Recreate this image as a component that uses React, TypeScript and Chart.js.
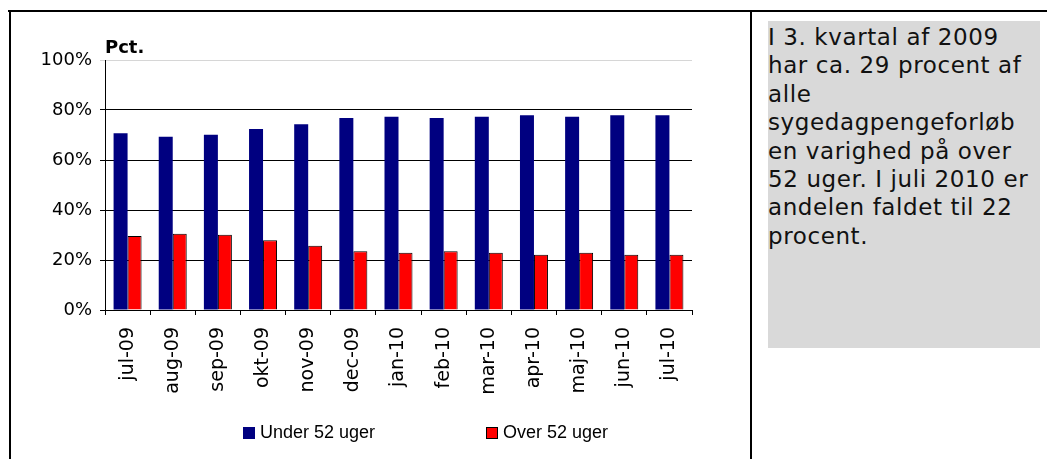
import React, { useEffect, useRef } from "react";
import { Chart, registerables } from "chart.js";

Chart.register(...registerables);

const categories = ["jul-09", "aug-09", "sep-09", "okt-09", "nov-09", "dec-09", "jan-10", "feb-10", "mar-10", "apr-10", "maj-10", "jun-10", "jul-10"];
const under52 = [70.7, 69.3, 70.1, 72.4, 74.3, 76.8, 77.3, 76.8, 77.3, 77.9, 77.3, 77.9, 77.9];
const over52 = [29.6, 30.5, 30.1, 27.9, 25.7, 23.5, 22.9, 23.5, 22.9, 22.1, 22.9, 22.1, 22.1];
const seriesNames = ["Under 52 uger", "Over 52 uger"];
const yUnitLabel = "Pct.";
const noteLines = [
  "I 3. kvartal af 2009",
  "har ca. 29 procent af",
  "alle",
  "sygedagpengeforløb",
  "en varighed på over",
  "52 uger. I juli 2010 er",
  "andelen faldet til 22",
  "procent.",
];

const extrasPlugin = {
  id: "extras",
  afterDraw(chart: any) {
    const { ctx, chartArea } = chart;
    ctx.save();
    // unit label
    ctx.fillStyle = "#000";
    ctx.font = "bold 18px 'DejaVu Sans'";
    ctx.textAlign = "left";
    ctx.textBaseline = "alphabetic";
    ctx.fillText(yUnitLabel, chartArea.left, chartArea.top - 7);
    // legend
    const xs = [chartArea.left + 138, chartArea.left + 381];
    const yMid = 421;
    chart.data.datasets.forEach((ds: any, i: number) => {
      const x = xs[i];
      ctx.fillStyle = ds.backgroundColor;
      ctx.fillRect(x, yMid - 6, 12, 12);
      if (ds.borderWidth) {
        ctx.strokeStyle = "#000";
        ctx.lineWidth = 1;
        ctx.strokeRect(x + 0.5, yMid - 5.5, 11, 11);
      }
      ctx.fillStyle = "#000";
      ctx.font = "18px 'Liberation Sans'";
      ctx.textBaseline = "middle";
      ctx.fillText(ds.label, x + 17, yMid);
    });
    ctx.restore();
  },
};

function ChartBox() {
  const ref = useRef<HTMLCanvasElement | null>(null);
  useEffect(() => {
    if (!ref.current) return;
    const chart = new Chart(ref.current, {
      type: "bar",
      data: {
        labels: categories,
        datasets: [
          {
            label: seriesNames[0],
            data: under52,
            backgroundColor: "#000080",
            borderWidth: 0,
            barPercentage: 1,
            categoryPercentage: 0.62,
          },
          {
            label: seriesNames[1],
            data: over52,
            backgroundColor: "#ff0000",
            borderColor: "#000",
            borderWidth: 1,
            barPercentage: 1,
            categoryPercentage: 0.62,
          },
        ],
      },
      options: {
        responsive: false,
        animation: false,
        devicePixelRatio: 1,
        layout: { padding: { top: 48, right: 58, left: 0, bottom: 39 } },
        plugins: {
          legend: { display: false },
          tooltip: { enabled: false },
          title: { display: false },
        },
        scales: {
          x: {
            afterFit: (s: any) => {
              s.height = 110;
            },
            grid: {
              offset: true,
              drawOnChartArea: false,
              drawTicks: true,
              tickLength: 5,
              color: "#000",
            },
            border: { display: true, color: "#000", width: 1 },
            ticks: {
              autoSkip: false,
              minRotation: 90,
              maxRotation: 90,
              padding: 12,
              color: "#000",
              font: { family: "'DejaVu Sans'", size: 19 },
            },
          },
          y: {
            min: 0,
            max: 100,
            afterFit: (s: any) => {
              s.width = 93;
            },
            grid: {
              drawTicks: true,
              tickLength: 5,
              color: (c: any) => (c.tick && c.tick.value === 100 ? "#d6d6d6" : "#000"),
            },
            border: { display: true, color: "#000", width: 1 },
            ticks: {
              stepSize: 20,
              padding: 8,
              color: "#000",
              font: { family: "'DejaVu Sans'", size: 18 },
              callback: (v: any) => v + "%",
            },
          },
        },
      },
      plugins: [extrasPlugin],
    });
    return () => chart.destroy();
  }, []);
  return (
    <canvas
      ref={ref}
      width={738}
      height={447}
      style={{ position: "absolute", left: 12, top: 12, width: 738, height: 447 }}
    />
  );
}

export default function App() {
  return (
    <div>
      <div style={{ position: "absolute", left: 8, top: 10, width: 1039, height: 2, background: "#000" }} />
      <div style={{ position: "absolute", left: 9, top: 10, width: 2, height: 449, background: "#000" }} />
      <div style={{ position: "absolute", left: 750, top: 10, width: 2, height: 449, background: "#000" }} />
      <ChartBox />
      <div
        style={{
          position: "absolute",
          left: 768,
          top: 21,
          width: 272,
          height: 327,
          background: "#d9d9d9",
          boxSizing: "border-box",
          paddingTop: 2,
          fontFamily: "'DejaVu Sans'",
          fontSize: 23,
          letterSpacing: 0.6,
          lineHeight: "28.4px",
          color: "#111",
          whiteSpace: "nowrap",
          overflow: "hidden",
        }}
      >
        {noteLines.map((l, i) => (
          <div key={i}>{l}</div>
        ))}
      </div>
    </div>
  );
}
